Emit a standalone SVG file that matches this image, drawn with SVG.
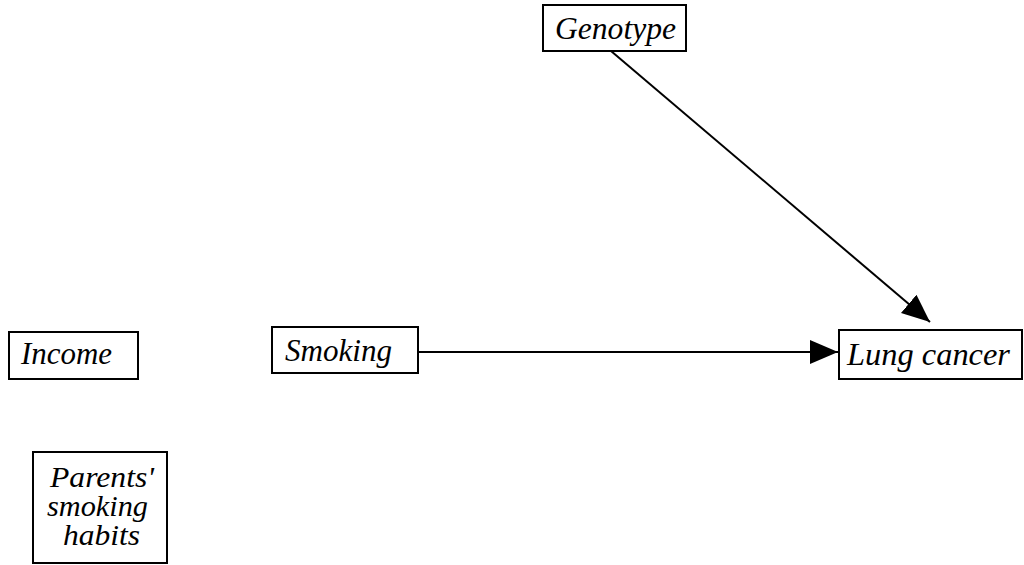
<svg xmlns="http://www.w3.org/2000/svg" width="1024" height="565" viewBox="0 0 1024 565">
<style>
.box{fill:#fff;stroke:#000;stroke-width:2}
.lbl{font-family:"Liberation Serif","Times New Roman",serif;font-style:italic;font-size:31px;fill:#000}
.sm{font-size:29px}
.edge{stroke:#000;stroke-width:2;fill:none}
</style>
<defs>
<marker id="ah" viewBox="0 0 28 24" refX="28" refY="12" markerWidth="28" markerHeight="24" markerUnits="userSpaceOnUse" orient="auto">
<path d="M0,0 L28,12 L0,24 Z" fill="#000"/>
</marker>
</defs>
<rect width="1024" height="565" fill="#fff"/>
<g id="connectors">
<line class="edge" x1="418" y1="352" x2="838" y2="352" marker-end="url(#ah)"/>
<line class="edge" x1="611" y1="51" x2="930" y2="322" marker-end="url(#ah)"/>
</g>
<g id="genotype">
<rect class="box" x="543" y="5" width="143" height="46"/>
<text class="lbl" x="555" y="39" textLength="121" lengthAdjust="spacingAndGlyphs">Genotype</text>
</g>
<g id="income">
<rect class="box" x="9" y="332" width="129" height="47"/>
<text class="lbl" x="21" y="364" textLength="91" lengthAdjust="spacingAndGlyphs">Income</text>
</g>
<g id="smoking">
<rect class="box" x="272" y="327" width="146" height="46"/>
<text class="lbl" x="285" y="361" textLength="107" lengthAdjust="spacingAndGlyphs">Smoking</text>
</g>
<g id="lungcancer">
<rect class="box" x="839" y="330" width="183" height="49"/>
<text class="lbl" x="847" y="365" textLength="163" lengthAdjust="spacingAndGlyphs">Lung cancer</text>
</g>
<g id="parents">
<rect class="box" x="33" y="452" width="134" height="111"/>
<text class="lbl sm" x="50" y="487" textLength="104" lengthAdjust="spacingAndGlyphs">Parents'</text>
<text class="lbl sm" x="47" y="516" textLength="101" lengthAdjust="spacingAndGlyphs">smoking</text>
<text class="lbl sm" x="63" y="545" textLength="77" lengthAdjust="spacingAndGlyphs">habits</text>
</g>
</svg>
